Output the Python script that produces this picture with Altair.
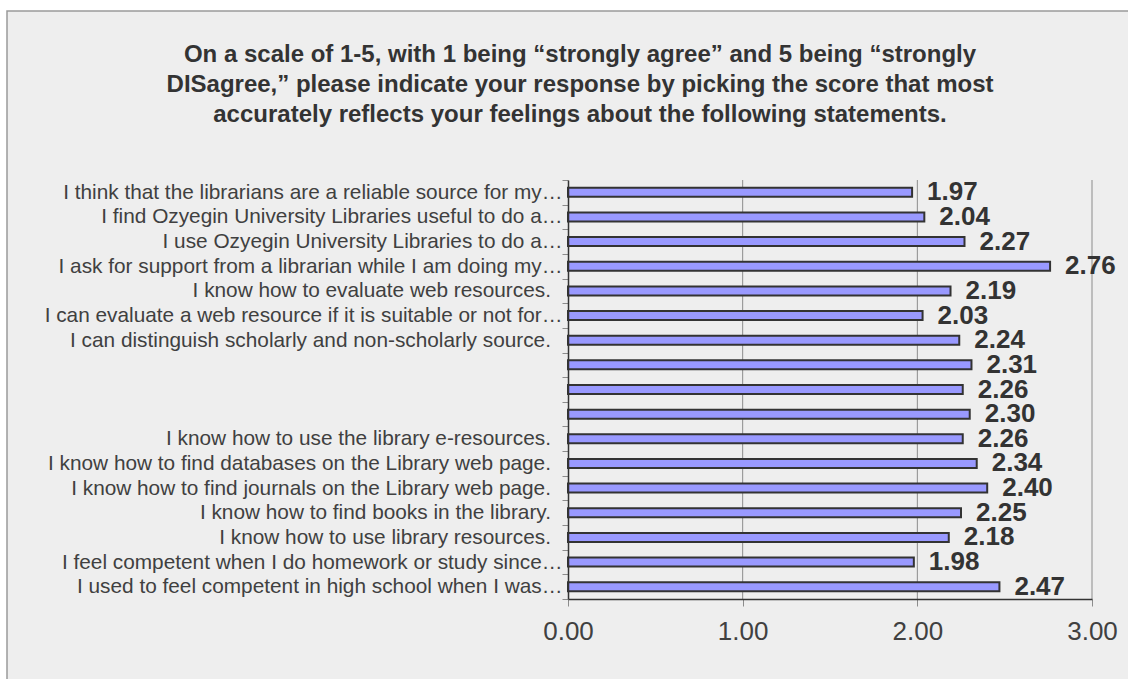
import json
import altair as alt
import pandas as pd

# Survey statements (top to bottom) and their mean scores
statements = [
    "I think that the librarians are a reliable source for my…",
    "I find Ozyegin University Libraries useful to do a…",
    "I use Ozyegin University Libraries to do a…",
    "I ask for support from a librarian while I am doing my…",
    "I know how to evaluate web resources.",
    "I can evaluate a web resource if it is suitable or not for…",
    "I can distinguish scholarly and non-scholarly source.",
    "",
    "",
    "",
    "I know how to use the library e-resources.",
    "I know how to find databases on the Library web page.",
    "I know how to find journals on the Library web page.",
    "I know how to find books in the library.",
    "I know how to use library resources.",
    "I feel competent when I do homework or study since…",
    "I used to feel competent in high school when I was…",
]
scores = [1.97, 2.04, 2.27, 2.76, 2.19, 2.03, 2.24, 2.31, 2.26, 2.30,
          2.26, 2.34, 2.40, 2.25, 2.18, 1.98, 2.47]
x_ticks = [0, 1, 2, 3]
grid_values = [1, 2, 3]

title_lines = [
    "On a scale of 1-5, with 1 being “strongly agree” and 5 being “strongly",
    "DISagree,” please indicate your response by picking the score that most",
    "accurately reflects your feelings about the following statements.",
]

# Complete statements keep a little trailing space before the tick marks
# (a zero-width space at the end stops the padding from being trimmed)
PAD_TAIL = "\u00a0\u00a0\u200b"
axis_labels = [s if (s == "" or s.endswith("…")) else s + PAD_TAIL for s in statements]

df = pd.DataFrame({"row": list(range(len(scores))), "score": scores})
grid_df = pd.DataFrame({"v": grid_values})

FONT = "Liberation Sans"
PLOT_W, PLOT_H = 524, 419
PAD = {"left": 568, "top": 180, "right": 1128 - 568 - PLOT_W, "bottom": 679 - 180 - PLOT_H}

x_scale = alt.Scale(domain=[0, 3], nice=False, zero=True)
y_scale = alt.Scale(paddingInner=0, paddingOuter=0)

x_axis = alt.Axis(
    title=None,
    values=x_ticks,
    format=".2f",
    grid=False,
    labelFlush=False,
    labelFont=FONT,
    labelFontSize=26,
    labelColor="#404040",
    labelPadding=12,
    tickSize=7,
    tickColor="#8c8c8c",
    domainColor="#333333",
    domainWidth=1.5,
    zindex=1,
)

label_expr = json.dumps(axis_labels) + "[datum.value]"

# Panel frame behind everything
frame = alt.Chart(pd.DataFrame({"k": [0]})).mark_rect(
    fill="#eeeeee", stroke="#9a9a9a", strokeWidth=1.5
).encode(
    x=alt.value(7 - PAD["left"]),
    x2=alt.value(PLOT_W + PAD["right"] + 10),
    y=alt.value(11 - PAD["top"]),
    y2=alt.value(PLOT_H + PAD["bottom"] + 10),
)

grid = alt.Chart(grid_df).mark_rule(color="#8c8c8c", strokeWidth=1).encode(
    x=alt.X("v:Q", scale=x_scale, axis=x_axis),
    y=alt.value(0),
    y2=alt.value(PLOT_H),
)

base = alt.Chart(df).encode(
    y=alt.Y(
        "row:O",
        scale=y_scale,
        sort="ascending",
        axis=alt.Axis(
            title=None,
            labelExpr=label_expr,
            labelFont=FONT,
            labelFontSize=20.8,
            labelColor="#404040",
            labelPadding=0,
            labelLimit=700,
            tickBand="extent",
            tickSize=6,
            tickColor="#8c8c8c",
            domainColor="#333333",
            domainWidth=1.5,
            zindex=1,
        ),
    ),
)

bars = base.mark_bar(
    size=9, fill="#9999ff", stroke="#333333", strokeWidth=2
).encode(
    x=alt.X("score:Q", scale=x_scale, axis=x_axis),
)

values = base.mark_text(
    align="left", baseline="middle", dx=15,
    font=FONT, fontSize=26, fontWeight="bold", color="#333333",
).encode(
    x=alt.X("score:Q", scale=x_scale),
    text=alt.Text("score:Q", format=".2f"),
)

chart = alt.layer(frame, grid, bars, values).properties(
    width=PLOT_W,
    height=PLOT_H,
    padding=PAD,
    autosize=alt.AutoSizeParams(type="none"),
    background="white",
    title=alt.TitleParams(
        text=title_lines,
        font=FONT,
        fontSize=24,
        fontWeight="bold",
        color="#333333",
        lineHeight=30,
        anchor="middle",
        frame="group",
        dx=-250,
        dy=169,
        offset=52,
        zindex=1,
    ),
).configure_view(stroke=None)

chart.save("out.html", embed_options={"renderer": "svg", "actions": False})
